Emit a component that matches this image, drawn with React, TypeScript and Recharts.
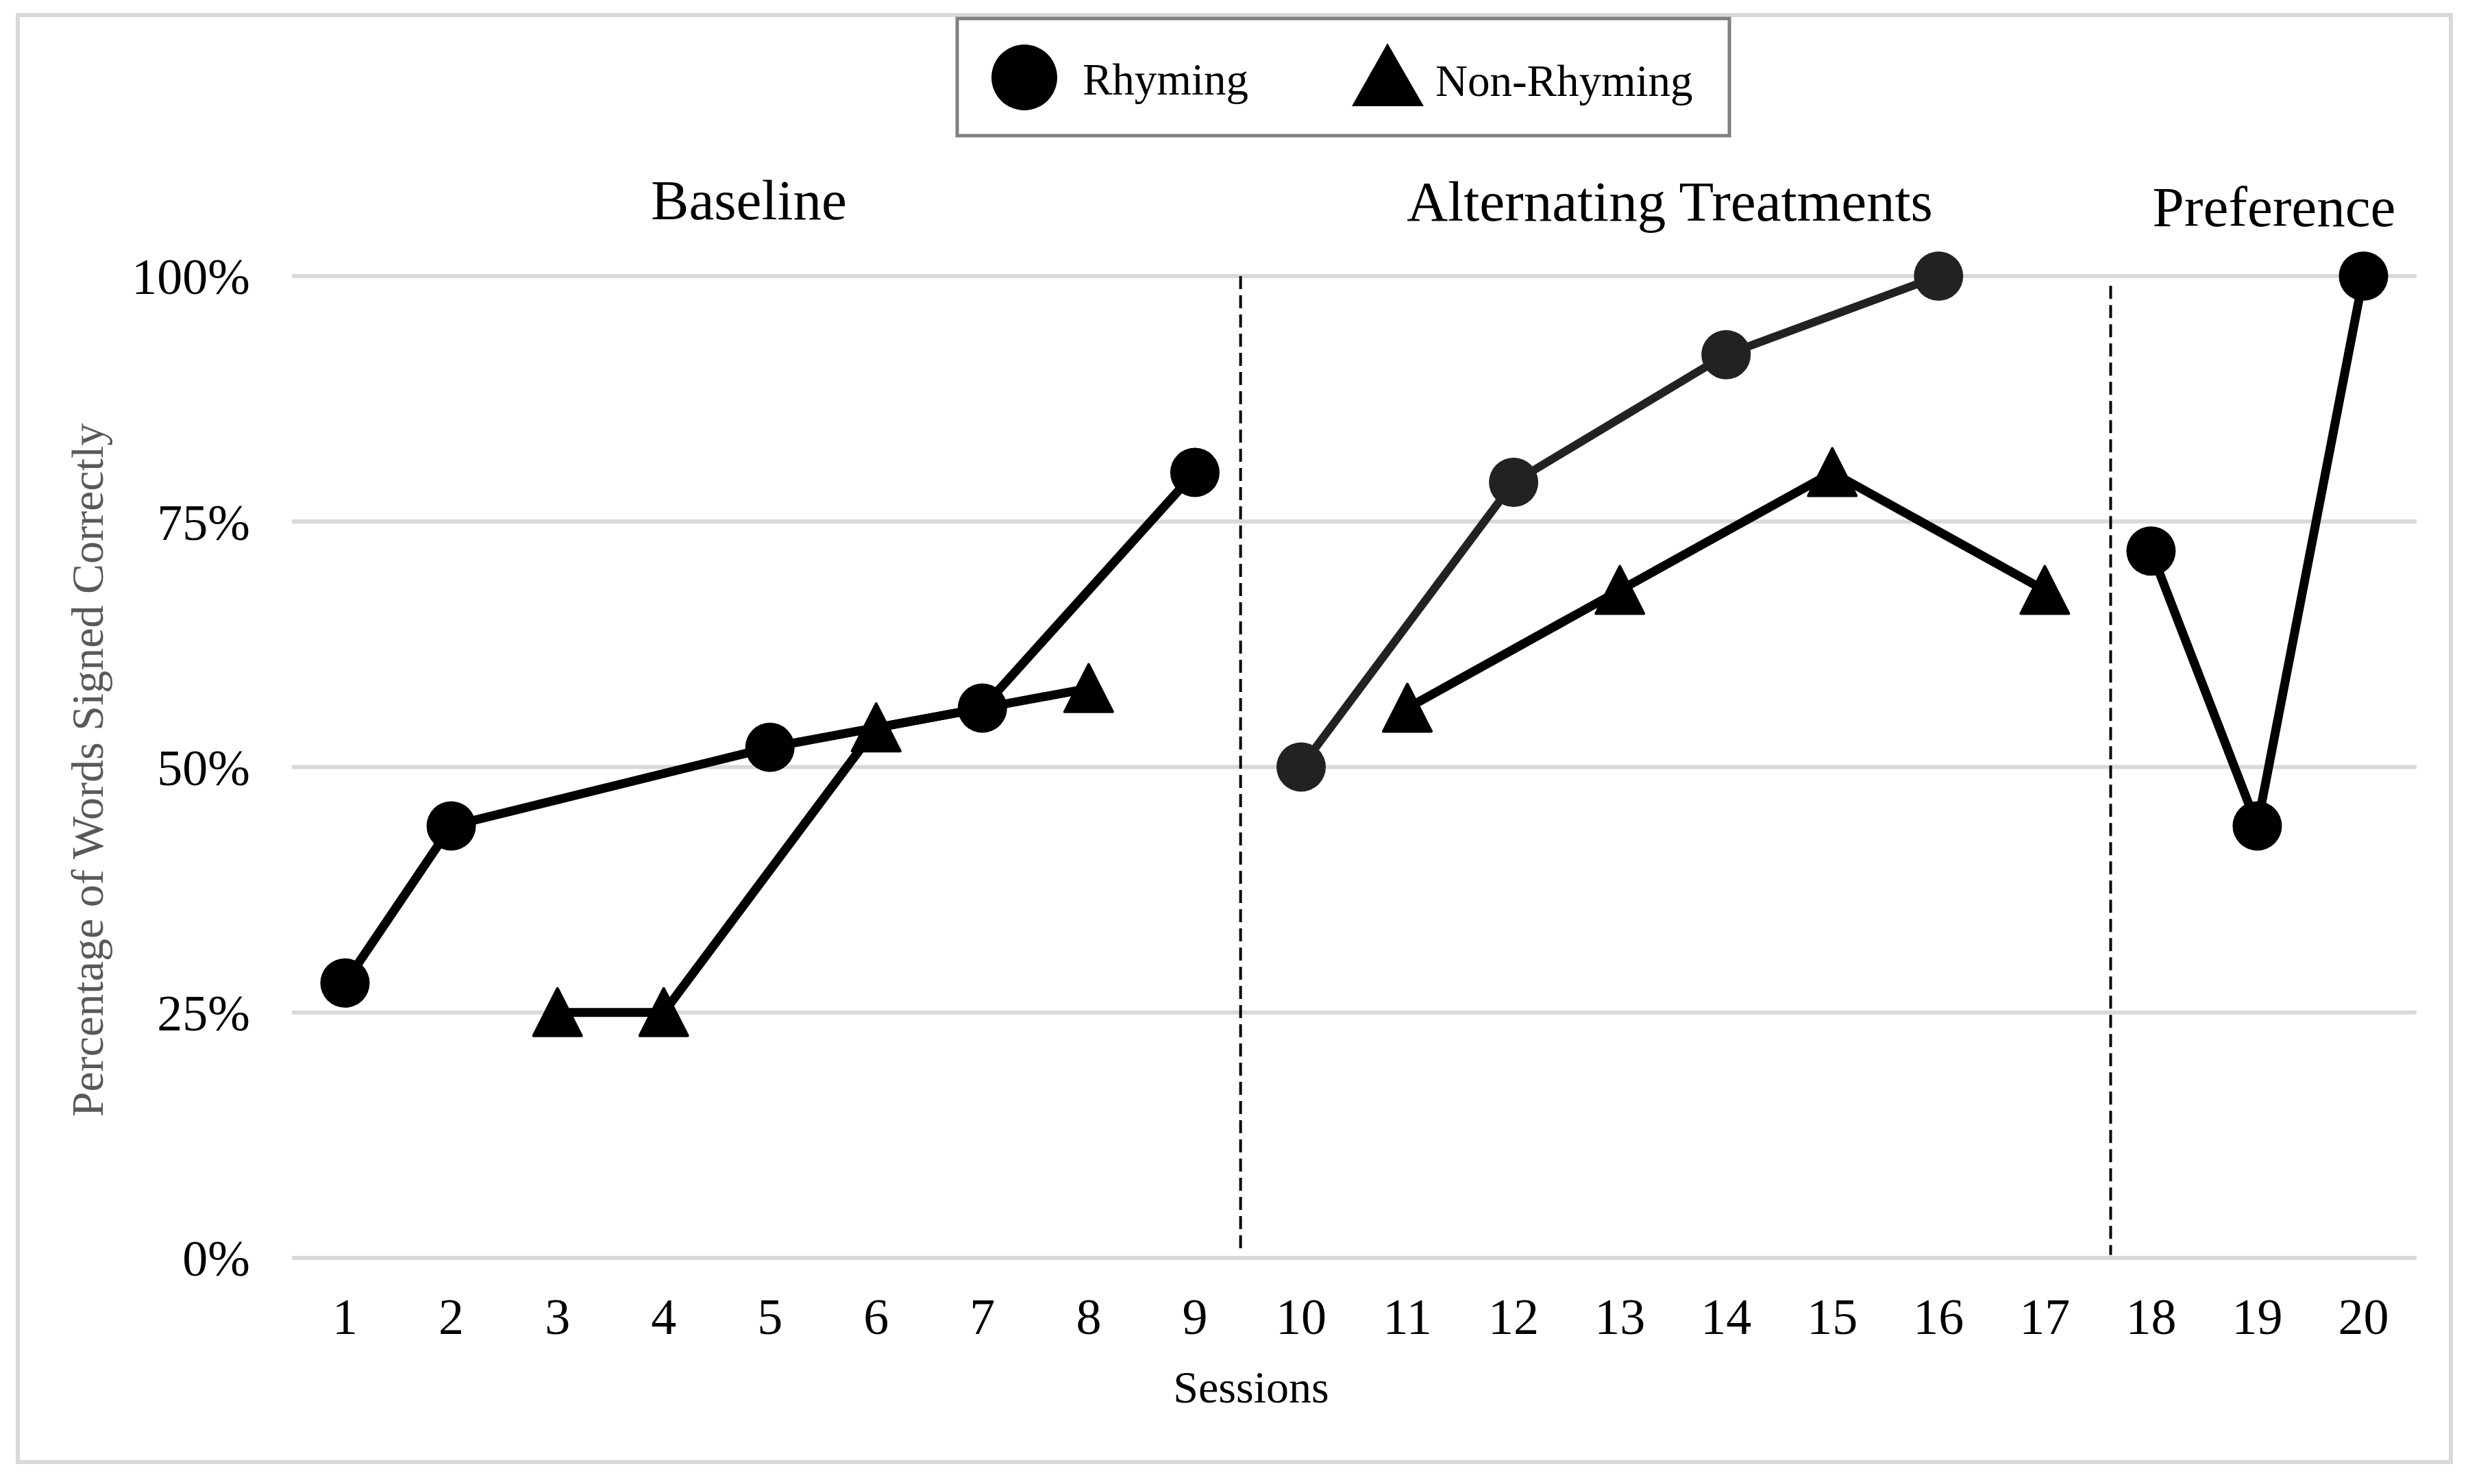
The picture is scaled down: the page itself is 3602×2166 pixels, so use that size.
import React from "react";
import {
  ComposedChart,
  Line,
  XAxis,
  YAxis,
  CartesianGrid,
  ReferenceLine,
} from "recharts";

const sessions = [1, 2, 3, 4, 5, 6, 7, 8, 9, 10, 11, 12, 13, 14, 15, 16, 17, 18, 19, 20];

// percentage of words signed correctly, one slot per session (null = not measured in that phase)
const rhymingBaseline = [28, 44, null, null, 52, null, 56, null, 80, null, null, null, null, null, null, null, null, null, null, null];
const rhymingTreatment = [null, null, null, null, null, null, null, null, null, 50, null, 79, null, 92, null, 100, null, null, null, null];
const rhymingPreference = [null, null, null, null, null, null, null, null, null, null, null, null, null, null, null, null, null, 72, 44, 100];
const nonRhymingBaseline = [null, null, 25, 25, null, 54, null, 58, null, null, null, null, null, null, null, null, null, null, null, null];
const nonRhymingTreatment = [null, null, null, null, null, null, null, null, null, null, 56, null, 68, null, 80, null, 68, null, null, null];

const yTicks = [0, 25, 50, 75, 100];
const phaseChanges = [9.43, 17.62];

const data = sessions.map((s, i) => ({
  session: s,
  rb: rhymingBaseline[i],
  rt: rhymingTreatment[i],
  rp: rhymingPreference[i],
  nb: nonRhymingBaseline[i],
  nt: nonRhymingTreatment[i],
}));

const FONT = '"Liberation Serif", "Times New Roman", serif';
const W = 3586;
const H = 2150;

function makeCircle(color: string) {
  return (props: any) => {
    const { cx, cy, value, index } = props;
    if (cx == null || cy == null || value == null) return <g key={index} />;
    return <circle key={index} cx={cx} cy={cy} r={36} fill={color} />;
  };
}

function makeTriangle(color: string) {
  return (props: any) => {
    const { cx, cy, value, index } = props;
    if (cx == null || cy == null || value == null) return <g key={index} />;
    const pts = `${cx},${cy - 35} ${cx - 35},${cy + 34} ${cx + 35},${cy + 34}`;
    return (
      <polygon
        key={index}
        points={pts}
        fill={color}
        stroke={color}
        strokeWidth={4}
        strokeLinejoin="round"
      />
    );
  };
}

export default function App() {
  return (
    <div style={{ position: "relative", width: W, height: H, fontFamily: FONT }}>
      <ComposedChart
        width={W}
        height={H}
        data={data}
        margin={{ top: 395, right: 67, bottom: 192, left: 0 }}
      >
        <CartesianGrid vertical={false} stroke="#d9d9d9" strokeWidth={6} />
        <XAxis
          type="number"
          dataKey="session"
          domain={[0.5, 20.5]}
          ticks={sessions}
          interval={0}
          axisLine={false}
          tickLine={false}
          tickSize={0}
          tickMargin={58}
          height={130}
          tick={{ fontSize: 74, fill: "#000", fontFamily: FONT }}
        />
        <YAxis
          domain={[0, 100]}
          ticks={yTicks}
          interval={0}
          axisLine={false}
          tickLine={false}
          tickSize={0}
          tickMargin={61}
          width={418}
          tickFormatter={(v: number) => `${v}%`}
          tick={{ fontSize: 74, fill: "#000", fontFamily: FONT }}
        />
        <ReferenceLine
          segment={[{ x: phaseChanges[0], y: 100 }, { x: phaseChanges[0], y: 1 }]}
          stroke="#000"
          strokeWidth={4}
          strokeDasharray="19 9"
        />
        <ReferenceLine
          segment={[{ x: phaseChanges[1], y: 99 }, { x: phaseChanges[1], y: 0.3 }]}
          stroke="#000"
          strokeWidth={4}
          strokeDasharray="19 9"
        />
        <Line dataKey="rb" stroke="#000" strokeWidth={13} connectNulls dot={makeCircle("#000")} activeDot={false} isAnimationActive={false} />
        <Line dataKey="nb" stroke="#000" strokeWidth={13} connectNulls dot={makeTriangle("#000")} activeDot={false} isAnimationActive={false} />
        <Line dataKey="rt" stroke="#222" strokeWidth={12} connectNulls dot={makeCircle("#222")} activeDot={false} isAnimationActive={false} />
        <Line dataKey="nt" stroke="#000" strokeWidth={13} connectNulls dot={makeTriangle("#000")} activeDot={false} isAnimationActive={false} />
        <Line dataKey="rp" stroke="#000" strokeWidth={13} connectNulls dot={makeCircle("#000")} activeDot={false} isAnimationActive={false} />
      </ComposedChart>

      <svg
        width={W}
        height={H}
        style={{ position: "absolute", left: 0, top: 0, pointerEvents: "none" }}
        fontFamily={FONT}
      >
        <rect x={18} y={14} width={3551} height={2112} fill="none" stroke="#d9d9d9" strokeWidth={6} />

        {/* legend */}
        <rect x={1389} y={19} width={1127} height={171} fill="#fff" stroke="#808080" strokeWidth={5} />
        <circle cx={1487} cy={105} r={48} fill="#000" />
        <text x={1572} y={130} fontSize={65} fill="#000">Rhyming</text>
        <polygon points="2017,55 1965,147 2070,147" fill="#000" />
        <text x={2087} y={132} fontSize={65} fill="#000">Non-Rhyming</text>

        {/* phase labels */}
        <text x={1085} y={312} fontSize={83} textAnchor="middle" fill="#000">Baseline</text>
        <text x={2429} y={314} fontSize={83} textAnchor="middle" fill="#000">Alternating Treatments</text>
        <text x={3311} y={322} fontSize={83} textAnchor="middle" fill="#000">Preference</text>

        {/* axis titles */}
        <text
          transform="translate(142,1116) rotate(-90)"
          fontSize={66}
          textAnchor="middle"
          fill="#595959"
        >
          Percentage of Words Signed Correctly
        </text>
        <text x={1818} y={2039} fontSize={66} textAnchor="middle" fill="#000">Sessions</text>
      </svg>
    </div>
  );
}
